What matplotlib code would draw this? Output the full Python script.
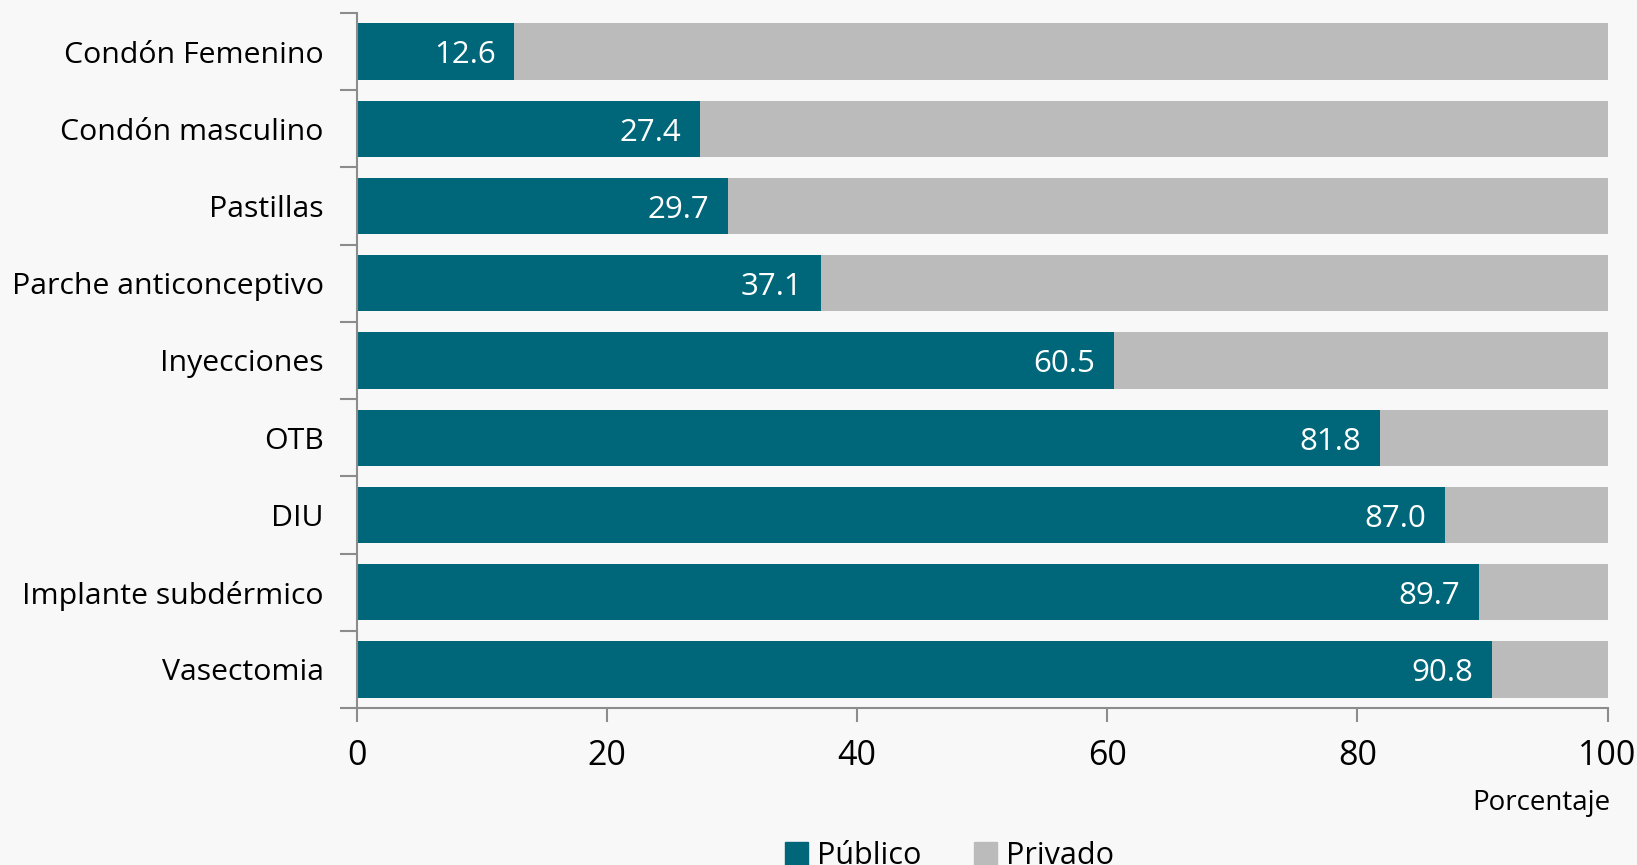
import matplotlib
matplotlib.use("Agg")
import matplotlib.pyplot as plt
from matplotlib.patches import Patch
from matplotlib.ticker import FixedLocator

categories = ["Condón Femenino", "Condón masculino", "Pastillas", "Parche anticonceptivo",
              "Inyecciones", "OTB", "DIU", "Implante subdérmico", "Vasectomia"]
publico = [12.6, 27.4, 29.7, 37.1, 60.5, 81.8, 87.0, 89.7, 90.8]
privado = [round(100 - v, 1) for v in publico]

teal = "#00677A"
gray = "#BBBBBB"
bg = "#F8F8F8"
axis_col = "#8C8C8C"

plt.rcParams['font.family'] = ['Open Sans', 'DejaVu Sans']

fig = plt.figure(figsize=(16.37, 8.65), dpi=100, facecolor=bg)
ax = fig.add_axes([0.218, 0.1815, 0.764, 0.8035], facecolor=bg)

y = list(range(len(categories)))
ax.barh(y, publico, height=0.73, color=teal, zorder=2)
ax.barh(y, privado, left=publico, height=0.73, color=gray, zorder=2)

for yi, v in zip(y, publico):
    ax.text(v - 1.5, yi + 0.05, f"{v:.1f}", color="white", ha="right", va="center", fontsize=22.5)

ax.set_xlim(0, 100)
ax.set_ylim(len(categories) - 0.5, -0.5)
ax.set_xticks([0, 20, 40, 60, 80, 100])
ax.set_yticks(y)
ax.set_yticklabels(categories)
ax.yaxis.set_minor_locator(FixedLocator([i - 0.5 for i in range(len(categories) + 1)]))
ax.tick_params(axis='y', which='major', length=0, pad=24, labelsize=21.8)
ax.tick_params(axis='y', which='minor', length=12, color=axis_col, width=1.5)
ax.tick_params(axis='x', which='major', length=10, color=axis_col, width=1.5, pad=12, labelsize=24.5)

for s in ['top', 'right']:
    ax.spines[s].set_visible(False)
for s in ['left', 'bottom']:
    ax.spines[s].set_color(axis_col)
    ax.spines[s].set_linewidth(1.5)

fig.text(1610 / 1637, 1 - 803 / 865, "Porcentaje", ha="right", va="center", fontsize=20)

handles = [Patch(color=teal, label="Público"), Patch(color=gray, label="Privado")]
fig.legend(handles=handles, loc="center", bbox_to_anchor=(0.58, 1 - 856 / 865), ncol=2,
           frameon=False, fontsize=22, handlelength=0.75, handleheight=0.75,
           handletextpad=0.3, columnspacing=1.7)

fig.savefig("out.png", dpi=100, facecolor=bg)
